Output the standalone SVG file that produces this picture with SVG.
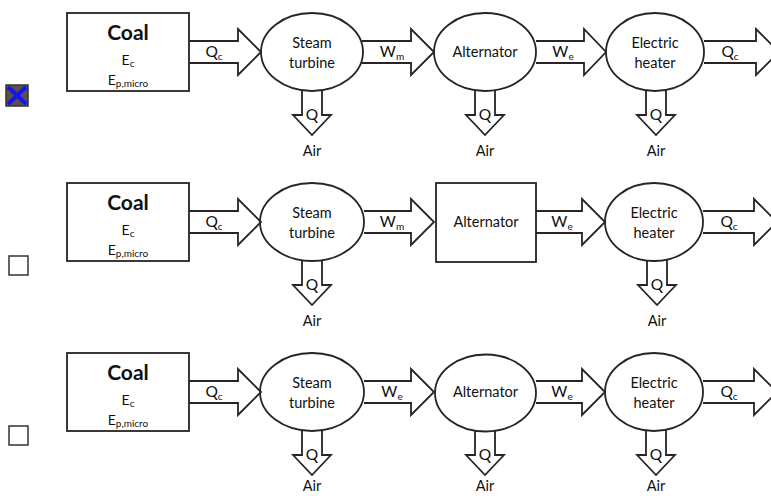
<svg xmlns="http://www.w3.org/2000/svg" width="771" height="496" viewBox="0 0 771 496">
<style>
.sh{fill:none;stroke:#2a2224;stroke-width:1.8;stroke-linejoin:miter}
.ar{fill:#fff;stroke:#2a2224;stroke-width:1.8;stroke-linejoin:miter}
text{font-family:Lato,"Open Sans","Liberation Sans",sans-serif;fill:#111;text-anchor:middle}
.t{font-size:14.5px}
.lb{font-size:15.5px}
.coal{font-size:21px;font-weight:bold}
.e{font-size:14px}
.sub{font-size:10px}
.cb{fill:#fff;stroke:#333;stroke-width:1.5}
</style>
<rect width="771" height="496" fill="#fff"/>

<!-- checkboxes -->
<g id="check1">
<rect x="6" y="85" width="22" height="21" fill="#5e4e4c" stroke="#333" stroke-width="1.5"/>
<path d="M8,87 L26,104 M26,87 L8,104" stroke="#1414ee" stroke-width="4" fill="none"/>
</g>
<g id="check2"><rect class="cb" x="9" y="256" width="19" height="19"/></g>
<g id="check3"><rect class="cb" x="9" y="426" width="19" height="19"/></g>

<!-- ROW 1 -->
<g id="row1">
<g id="connectors1">
<path class="ar" d="M189,41 H238 V29 L261,52 L238,75 V63 H189"/>
<path class="ar" d="M362,41 H411 V29 L434,52 L411,75 V63 H362"/>
<path class="ar" d="M536,41 H584 V29 L606,52 L584,75 V63 H536"/>
<path class="ar" d="M704,41 H756 V29 L779,52 L756,75 V63 H704"/>
<path class="ar" d="M302,90 V115 H293 L312,135 L331,115 H322 V90"/>
<path class="ar" d="M475,90 V115 H466 L485,135 L504,115 H495 V90"/>
<path class="ar" d="M646,90 V115 H637 L656,135 L675,115 H666 V90"/>
<text class="lb" x="214" y="57">Q<tspan class="sub" dy="3">c</tspan></text>
<text class="lb" x="392" y="57">W<tspan class="sub" dy="3">m</tspan></text>
<text class="lb" x="563" y="57">W<tspan class="sub" dy="3">e</tspan></text>
<text class="lb" x="730" y="57">Q<tspan class="sub" dy="3">c</tspan></text>
<text class="lb" x="312" y="120">Q</text>
<text class="lb" x="485" y="120">Q</text>
<text class="lb" x="656" y="120">Q</text>
<text class="t" x="312" y="156">Air</text>
<text class="t" x="485" y="156">Air</text>
<text class="t" x="656" y="156">Air</text>
</g>
<g id="coal1">
<rect class="sh" x="67" y="13" width="122" height="78"/>
<text class="coal" x="128" y="40">Coal</text>
<text class="e" x="128" y="65">E<tspan class="sub" dy="2">c</tspan></text>
<text class="e" x="128" y="85">E<tspan class="sub" dy="2">p,micro</tspan></text>
</g>
<g id="turbine1">
<ellipse class="sh" cx="312" cy="52" rx="51" ry="39"/>
<text class="t" x="312" y="48">Steam</text>
<text class="t" x="312" y="68">turbine</text>
</g>
<g id="alternator1">
<ellipse class="sh" cx="485" cy="52" rx="51" ry="39"/>
<text class="t" x="485" y="57">Alternator</text>
</g>
<g id="heater1">
<ellipse class="sh" cx="655" cy="52" rx="49" ry="39"/>
<text class="t" x="655" y="48">Electric</text>
<text class="t" x="655" y="68">heater</text>
</g>
</g>

<!-- ROW 2 -->
<g id="row2" transform="translate(0,170)">
<g id="connectors2">
<path class="ar" d="M189,41 H238 V29 L261,52 L238,75 V63 H189"/>
<path class="ar" d="M364,41 H411 V29 L434,52 L411,75 V63 H364"/>
<path class="ar" d="M536,41 H582 V29 L605,52 L582,75 V63 H536"/>
<path class="ar" d="M703,41 H754 V29 L777,52 L754,75 V63 H703"/>
<path class="ar" d="M302,90 V115 H293 L312,135 L331,115 H322 V90"/>
<path class="ar" d="M647,90 V115 H638 L657,135 L676,115 H667 V90"/>
<text class="lb" x="214" y="57">Q<tspan class="sub" dy="3">c</tspan></text>
<text class="lb" x="392" y="57">W<tspan class="sub" dy="3">m</tspan></text>
<text class="lb" x="562" y="57">W<tspan class="sub" dy="3">e</tspan></text>
<text class="lb" x="729" y="57">Q<tspan class="sub" dy="3">c</tspan></text>
<text class="lb" x="312" y="120">Q</text>
<text class="lb" x="657" y="120">Q</text>
<text class="t" x="312" y="156">Air</text>
<text class="t" x="657" y="156">Air</text>
</g>
<g id="coal2">
<rect class="sh" x="67" y="13" width="122" height="78"/>
<text class="coal" x="128" y="40">Coal</text>
<text class="e" x="128" y="65">E<tspan class="sub" dy="2">c</tspan></text>
<text class="e" x="128" y="85">E<tspan class="sub" dy="2">p,micro</tspan></text>
</g>
<g id="turbine2">
<ellipse class="sh" cx="312" cy="52" rx="52" ry="39"/>
<text class="t" x="312" y="48">Steam</text>
<text class="t" x="312" y="68">turbine</text>
</g>
<g id="alternator2">
<rect class="sh" x="436" y="13" width="100" height="79"/>
<text class="t" x="486" y="57">Alternator</text>
</g>
<g id="heater2">
<ellipse class="sh" cx="654" cy="52" rx="49" ry="39"/>
<text class="t" x="654" y="48">Electric</text>
<text class="t" x="654" y="68">heater</text>
</g>
</g>

<!-- ROW 3 -->
<g id="row3" transform="translate(0,340)">
<g id="connectors3">
<path class="ar" d="M189,41 H238 V29 L261,52 L238,75 V63 H189"/>
<path class="ar" d="M364,41 H411 V29 L434,52 L411,75 V63 H364"/>
<path class="ar" d="M536,41 H582 V29 L605,52 L582,75 V63 H536"/>
<path class="ar" d="M703,41 H754 V29 L777,52 L754,75 V63 H703"/>
<path class="ar" d="M302,90 V115 H293 L312,135 L331,115 H322 V90"/>
<path class="ar" d="M475,90 V115 H466 L485,135 L504,115 H495 V90"/>
<path class="ar" d="M646,90 V115 H637 L656,135 L675,115 H666 V90"/>
<text class="lb" x="214" y="57">Q<tspan class="sub" dy="3">c</tspan></text>
<text class="lb" x="392" y="57">W<tspan class="sub" dy="3">e</tspan></text>
<text class="lb" x="562" y="57">W<tspan class="sub" dy="3">e</tspan></text>
<text class="lb" x="729" y="57">Q<tspan class="sub" dy="3">c</tspan></text>
<text class="lb" x="312" y="120">Q</text>
<text class="lb" x="485" y="120">Q</text>
<text class="lb" x="656" y="120">Q</text>
<text class="t" x="312" y="151">Air</text>
<text class="t" x="485" y="151">Air</text>
<text class="t" x="656" y="151">Air</text>
</g>
<g id="coal3">
<rect class="sh" x="67" y="13" width="122" height="78"/>
<text class="coal" x="128" y="40">Coal</text>
<text class="e" x="128" y="65">E<tspan class="sub" dy="2">c</tspan></text>
<text class="e" x="128" y="85">E<tspan class="sub" dy="2">p,micro</tspan></text>
</g>
<g id="turbine3">
<ellipse class="sh" cx="312" cy="52" rx="52" ry="39"/>
<text class="t" x="312" y="48">Steam</text>
<text class="t" x="312" y="68">turbine</text>
</g>
<g id="alternator3">
<ellipse class="sh" cx="485.5" cy="53" rx="50.5" ry="38.5"/>
<text class="t" x="485.5" y="57">Alternator</text>
</g>
<g id="heater3">
<ellipse class="sh" cx="654" cy="52" rx="49" ry="39"/>
<text class="t" x="654" y="48">Electric</text>
<text class="t" x="654" y="68">heater</text>
</g>
</g>
</svg>
